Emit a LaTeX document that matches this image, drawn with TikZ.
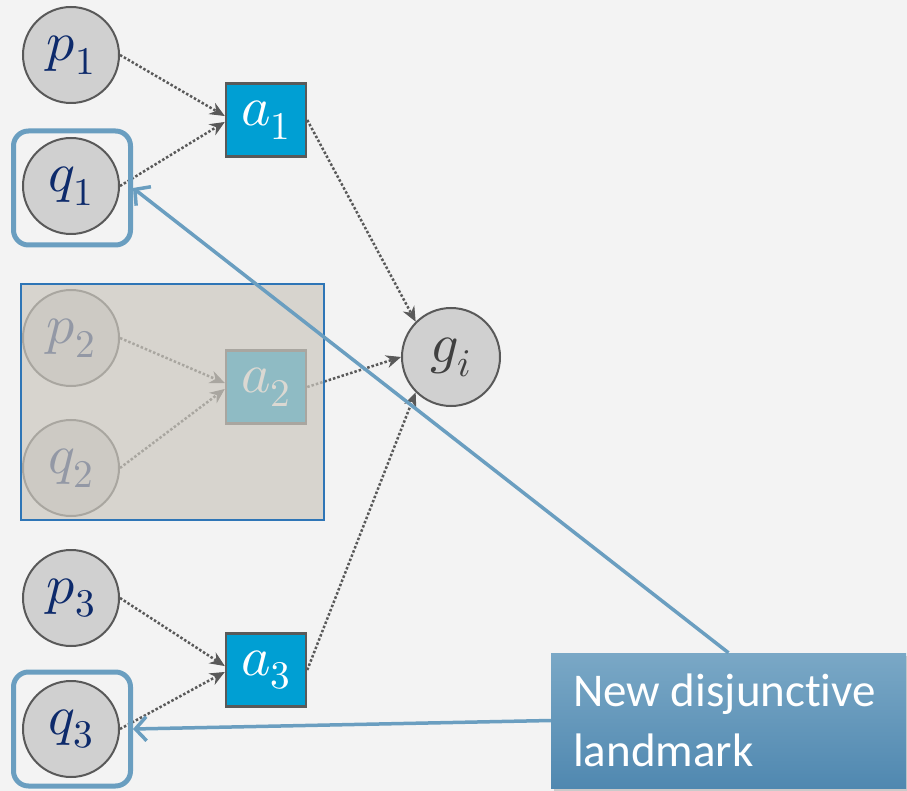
\documentclass[tikz,border=0pt]{standalone}
\usepackage{fontspec}
\usepackage{unicode-math}
\setmathfont{Latin Modern Math}
\newfontfamily\calloutfont{Carlito}[Ligatures=NoCommon]
\usetikzlibrary{arrows.meta,shadows}
\definecolor{bgc}{RGB}{243,243,243}
\definecolor{circfill}{RGB}{208,208,208}
\definecolor{edgegray}{RGB}{89,89,89}
\definecolor{navy}{RGB}{13,42,107}
\definecolor{actblue}{RGB}{0,159,211}
\definecolor{lmblue}{RGB}{106,158,192}
\definecolor{veil}{RGB}{204,200,191}
\definecolor{veilborder}{RGB}{46,117,182}
\definecolor{ctop}{RGB}{122,168,198}
\definecolor{cbot}{RGB}{80,136,176}
\definecolor{gtext}{RGB}{64,64,64}
\tikzset{
  fact/.style={circle, minimum size=96pt, inner sep=0pt, fill=circfill, draw=edgegray, line width=2pt, text=navy, font=\fontsize{56}{60}\selectfont},
  actbox/.style={rectangle, minimum width=80pt, minimum height=73pt, inner sep=0pt, fill=actblue, draw=edgegray, line width=2.5pt, text=white, font=\fontsize{56}{60}\selectfont},
  dep/.style={edgegray, line width=2.5pt, dash pattern=on 2.5pt off 2pt, -{Stealth[length=15pt,width=13pt,inset=5pt,line width=1pt]}},
  lmframe/.style={rectangle, rounded corners=15pt, draw=lmblue, line width=5pt, minimum width=117pt, minimum height=114pt},
  lmlink/.style={lmblue, line width=3.5pt, -{Straight Barb[length=11pt,width=24pt,line width=3.5pt]}},
}
\begin{document}
\begin{tikzpicture}[x=1pt,y=-1pt]
\fill[bgc] (0,0) rectangle (907,791);
\useasboundingbox (0,0) rectangle (907,791);
% nodes
\node[fact] (p1) at (71,55) {$p_1$};
\node[fact] (q1) at (71,186) {$q_1$};
\node[actbox] (a1) at (266,120) {$a_1$};
\node[fact] (p2) at (71,338) {$p_2$};
\node[fact] (q2) at (71,468) {$q_2$};
\node[actbox] (a2) at (266,387) {$a_2$};
\node[fact] (p3) at (71,598) {$p_3$};
\node[fact] (q3) at (71,729) {$q_3$};
\node[actbox] (a3) at (266,670) {$a_3$};
\node[fact, minimum size=98pt, text=gtext] (g) at (451,357) {$g_i$};
% dependencies
\draw[dep] (p1.east) -- ([yshift=4pt]a1.west);
\draw[dep] (q1.east) -- ([yshift=-2pt]a1.west);
\draw[dep] (p2.east) -- ([yshift=4pt]a2.west);
\draw[dep] (q2.east) -- ([yshift=-2pt]a2.west);
\draw[dep] (p3.east) -- ([yshift=4pt]a3.west);
\draw[dep] (q3.east) -- ([yshift=-2pt]a3.west);
\draw[dep] (a1.east) -- (g.135);
\draw[dep] (a2.east) -- (g.west);
\draw[dep] (a3.east) -- (g.225);
% veil over removed action
\node[rectangle, minimum width=303pt, minimum height=236pt, inner sep=0pt, fill=veil, fill opacity=0.7, draw=veilborder, line width=1.5pt] (veil) at (172.5,402) {};
% landmark frames
\node[lmframe] (q1box) at (72,188) {};
\node[lmframe] (q3box) at (72,729) {};
% callout
\node[rectangle, minimum width=355pt, minimum height=135pt, inner sep=0pt, top color=ctop, bottom color=cbot, drop shadow={shadow xshift=3pt, shadow yshift=-3pt, opacity=0.35}] (call) at (728.5,720.5) {};
\node[anchor=north west, inner sep=0pt, align=left, text=white, font=\calloutfont\fontsize{47}{60}\selectfont] (calltext) at (573,674) {New disjunctive\\landmark};
\draw[lmlink] (call.north) -- (q1box.east);
\draw[lmlink] (call.west) -- (q3box.east);
\end{tikzpicture}
\end{document}
